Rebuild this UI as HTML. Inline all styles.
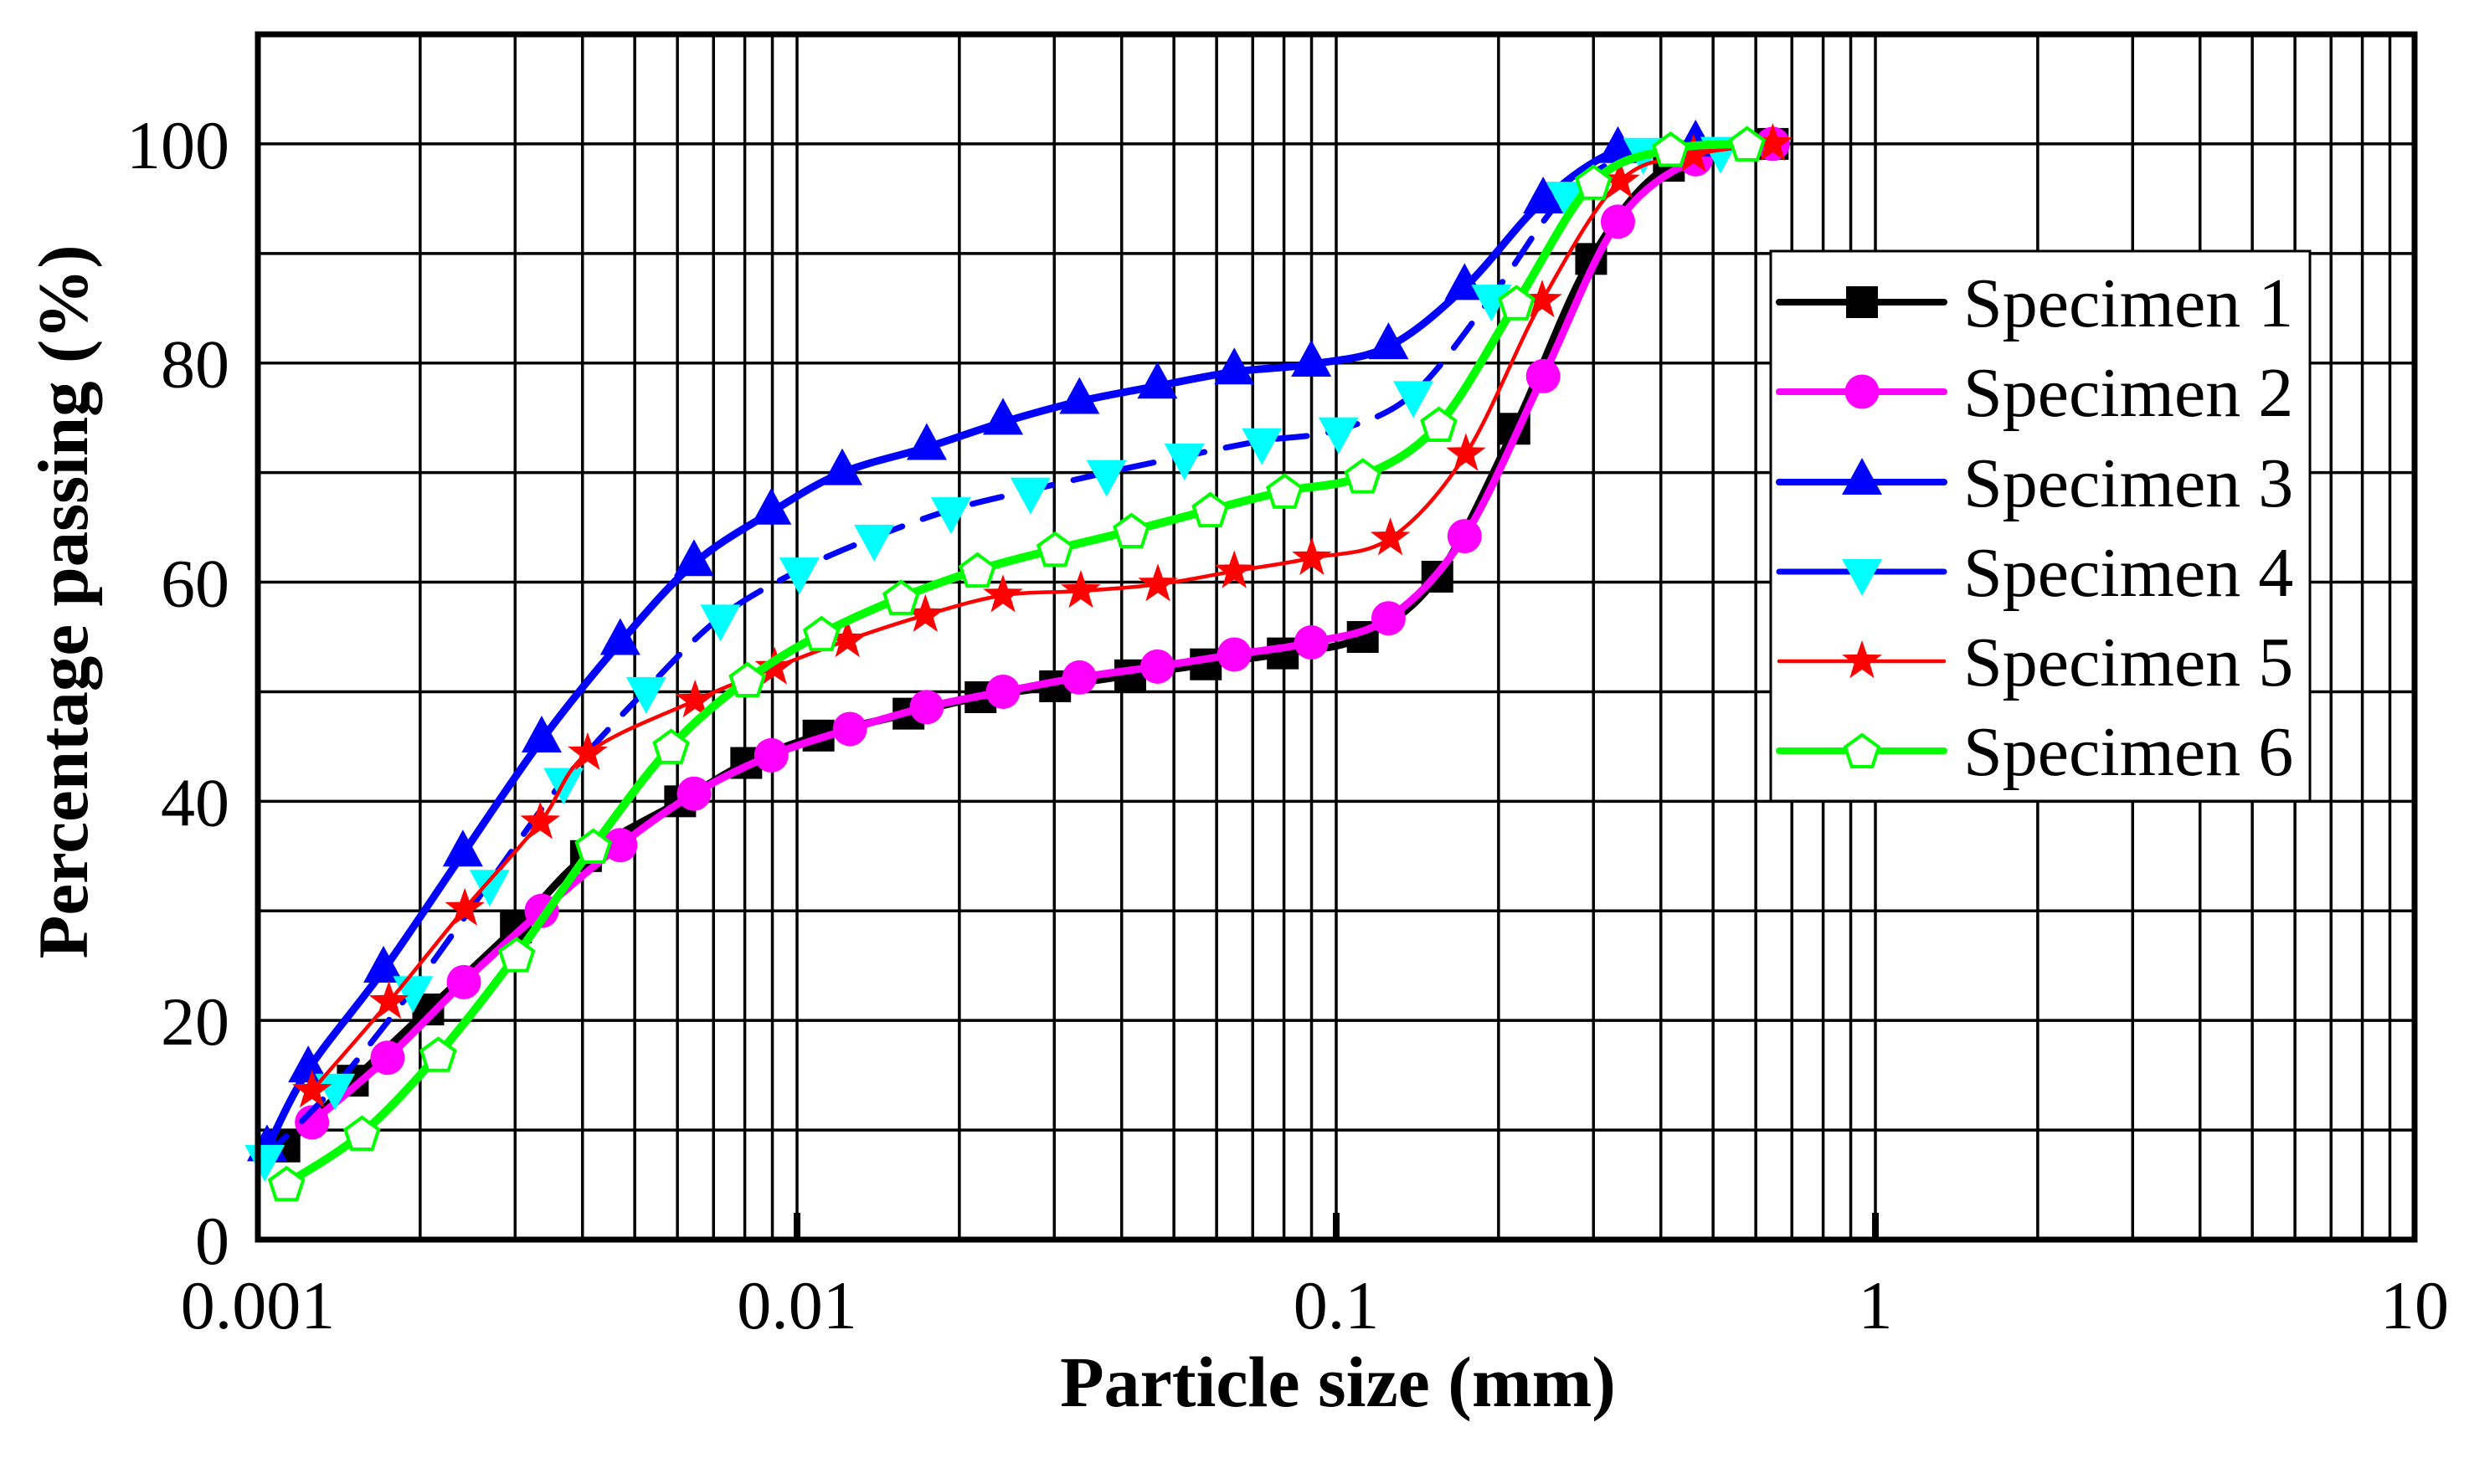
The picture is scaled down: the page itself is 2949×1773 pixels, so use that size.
<!DOCTYPE html>
<html><head><meta charset="utf-8"><style>
html,body{margin:0;padding:0;background:#fff;}
svg{display:block;}
</style></head><body>
<svg id="chart" width="2949" height="1773" viewBox="0 0 2949 1773" xmlns="http://www.w3.org/2000/svg" font-family="'Liberation Serif', serif">
<rect x="0" y="0" width="2949" height="1773" fill="#fff"/>
<g id="grid"></g>
<g id="series"></g>
<g id="axes"></g>
<g id="legend"></g>
</svg>
<script>
const xTickLabels = ["0.001","0.01","0.1","1","10"];
const xTickValues = [0.001,0.01,0.1,1,10];
const yTickValues = [0,20,40,60,80,100];
const seriesNames = ["Specimen 1","Specimen 2","Specimen 3","Specimen 4","Specimen 5","Specimen 6"];

const s1Size = [0.00112,0.0015,0.00207,0.00301,0.00406,0.00607,0.00805,0.01096,0.0161,0.0219,0.0301,0.0415,0.0573,0.0796,0.112,0.154,0.214,0.297,0.414,0.645];
const s1Pass = [8.5,14.5,21,28.5,35,40,43.5,46,48,49.5,50.5,51.5,52.5,53.5,55,60.5,74,89.5,98,100];

const s2Size = [0.00126,0.00174,0.00241,0.00336,0.0047,0.00644,0.00896,0.01253,0.0174,0.0241,0.0334,0.0466,0.0647,0.0899,0.125,0.173,0.242,0.333,0.464,0.645];
const s2Pass = [10.7,16.6,23.5,30,36,40.7,44.2,46.6,48.6,50,51.3,52.3,53.4,54.5,56.7,64.2,78.8,92.9,98.6,100];

const s3Size = [0.00104,0.00124,0.00171,0.0024,0.00336,0.0047,0.00644,0.00896,0.01213,0.0174,0.0241,0.0334,0.0466,0.0647,0.0899,0.125,0.173,0.242,0.333,0.464];
const s3Pass = [8.3,15.5,24.6,35.2,45.6,54.5,61.7,66.4,70,72.3,74.6,76.5,77.9,79.2,79.9,81.5,86.9,94.8,99.4,100];

const s4Size = [0.00103,0.00139,0.00194,0.00269,0.00369,0.00525,0.00721,0.0101,0.0139,0.0193,0.0271,0.0375,0.0523,0.0728,0.101,0.139,0.194,0.267,0.371,0.516];
const s4Pass = [7.5,14,22.9,32.6,41.9,50.2,56.8,61.1,64.1,66.6,68.4,70,71.5,72.9,73.9,77.2,86,95.4,99.4,99.5];

const s5Size = [0.00126,0.00175,0.00242,0.00334,0.00409,0.00647,0.00909,0.0124,0.0173,0.0241,0.0336,0.0467,0.0647,0.0901,0.126,0.174,0.241,0.336,0.46,0.645];
const s5Pass = [13.6,21.7,30.2,38.1,44.4,49.2,52.2,54.7,57,58.8,59.2,59.8,61,62.2,64,71.7,85.7,96.6,99,100];

const s6Size = [0.00113,0.00156,0.00216,0.00302,0.00419,0.00584,0.00809,0.0111,0.0156,0.0216,0.0301,0.0417,0.0584,0.0802,0.112,0.155,0.216,0.300,0.417,0.578];
const s6Pass = [5.1,9.7,16.9,26,35.9,45,51.1,55.3,58.6,61.1,63,64.7,66.6,68.3,69.7,74.4,85.5,96.5,99.5,100];

const NS = "http://www.w3.org/2000/svg";
const L = 308, R = 2884, T = 41, B = 1481;
const xMinLog = -3, xMaxLog = 1, yMin = 0, yMax = 110;
function xs(v){ return L + (Math.log10(v) - xMinLog) / (xMaxLog - xMinLog) * (R - L); }
function ys(v){ return B - (v - yMin) / (yMax - yMin) * (B - T); }
function mk(tag, attrs, parent){ const e = document.createElementNS(NS, tag); for (const k in attrs) e.setAttribute(k, attrs[k]); parent.appendChild(e); return e; }

const grid = document.getElementById('grid');
for (let d = -3; d < 1; d++) {
  for (let m = 1; m <= 9; m++) {
    const v = m * Math.pow(10, d);
    if (m === 1 && d === -3) continue;
    const x = xs(v);
    const ln = mk('line', {x1:x, x2:x, y1:T, y2:B, stroke:'#000', 'stroke-width':3.5}, grid);
    
    
  }
}
for (let v = 10; v <= 100; v += 10) {
  const y = ys(v);
  const ln = mk('line', {x1:L, x2:R, y1:y, y2:y, stroke:'#000', 'stroke-width':3.5}, grid);
  
  
}

function pathFor(sz, ps){
  const pts = sz.map((s,i)=>[xs(s), ys(ps[i])]);
  let d = 'M' + pts[0][0] + ',' + pts[0][1];
  for (let i = 0; i < pts.length - 1; i++) {
    const p0 = pts[Math.max(0,i-1)], p1 = pts[i], p2 = pts[i+1], p3 = pts[Math.min(pts.length-1,i+2)];
    const c1 = [p1[0] + (p2[0]-p0[0])/6, p1[1] + (p2[1]-p0[1])/6];
    const c2 = [p2[0] - (p3[0]-p1[0])/6, p2[1] - (p3[1]-p1[1])/6];
    d += ' C' + c1[0] + ',' + c1[1] + ' ' + c2[0] + ',' + c2[1] + ' ' + p2[0] + ',' + p2[1];
  }
  return d;
}
function marker(type, x, y, parent){
  let e;
  if (type === 'square') e = mk('rect', {x:x-19, y:y-19, width:38, height:38, fill:'#000'}, parent);
  else if (type === 'circle') e = mk('circle', {cx:x, cy:y, r:20.5, fill:'#ff00ff'}, parent);
  else if (type === 'up') e = mk('polygon', {points:`${x},${y-29} ${x+24},${y+15} ${x-24},${y+15}`, fill:'#0000ff'}, parent);
  else if (type === 'down') e = mk('polygon', {points:`${x},${y+29} ${x+24},${y-15} ${x-24},${y-15}`, fill:'#00ffff'}, parent);
  else if (type === 'star') {
    let p = [];
    for (let k = 0; k < 10; k++) { const r = k%2 ? 10 : 25; const a = -Math.PI/2 + k*Math.PI/5; p.push((x + r*Math.cos(a)).toFixed(1) + ',' + (y + r*Math.sin(a)).toFixed(1)); }
    e = mk('polygon', {points:p.join(' '), fill:'#ff0000'}, parent);
  } else if (type === 'pent') {
    let p = [];
    for (let k = 0; k < 5; k++) { const a = -Math.PI/2 + k*2*Math.PI/5; p.push((x + 21*Math.cos(a)).toFixed(1) + ',' + (y + 2 + 21*Math.sin(a)).toFixed(1)); }
    e = mk('polygon', {points:p.join(' '), fill:'#fff', stroke:'#00ff00', 'stroke-width':4}, parent);
  }
  return e;
}

const seriesDefs = [
  {size:s1Size, pass:s1Pass, color:'#000000', w:9, dash:null, m:'square'},
  {size:s2Size, pass:s2Pass, color:'#ff00ff', w:9, dash:null, m:'circle'},
  {size:s3Size, pass:s3Pass, color:'#0000ff', w:9, dash:null, m:'up'},
  {size:s4Size, pass:s4Pass, color:'#0000ff', w:7, dash:'36,26', m:'down'},
  {size:s5Size, pass:s5Pass, color:'#ff0000', w:4.5, dash:null, m:'star'},
  {size:s6Size, pass:s6Pass, color:'#00ff00', w:10, dash:null, m:'pent'}
];
const sg = document.getElementById('series');
seriesDefs.forEach((s, i) => {
  const g = mk('g', {}, sg);
  
  
  const attrs = {d:pathFor(s.size, s.pass), fill:'none', stroke:s.color, 'stroke-width':s.w, 'stroke-linecap':'round'};
  if (s.dash) attrs['stroke-dasharray'] = s.dash;
  const p = mk('path', attrs, g);
  
  
  s.size.forEach((v, j) => {
    const e = marker(s.m, xs(v), ys(s.pass[j]), g);
    
    
  });
});

const ax = document.getElementById('axes');
const frame = mk('rect', {x:L, y:T, width:R-L, height:B-T, fill:'none', stroke:'#000', 'stroke-width':7}, ax);


xTickValues.forEach((v, i) => {
  const x = xs(v);
  if (i > 0 && i < xTickValues.length - 1) {
    const tk = mk('line', {x1:x, x2:x, y1:B-32, y2:B, stroke:'#000', 'stroke-width':8}, ax);
    
    
  }
  const t = mk('text', {x:x, y:1587, 'font-size':82, 'text-anchor':'middle', fill:'#000'}, ax);
  t.textContent = xTickLabels[i];
  
  
});
yTickValues.forEach(v => {
  const t = mk('text', {x:274, y:ys(v)+29, 'font-size':82, 'text-anchor':'end', fill:'#000'}, ax);
  t.textContent = String(v);
  
  
});
const xt = mk('text', {x:1598, y:1680, 'font-size':86, 'font-weight':'bold', 'text-anchor':'middle', fill:'#000'}, ax);
xt.textContent = 'Particle size (mm)';


const yt = mk('text', {x:0, y:0, 'font-size':85, 'font-weight':'bold', 'text-anchor':'middle', fill:'#000', transform:'translate(104,719) rotate(-90)'}, ax);
yt.textContent = 'Percentage passing (%)';



const lg = document.getElementById('legend');
const box = mk('rect', {x:2115, y:300, width:644, height:657, fill:'#fff', stroke:'#000', 'stroke-width':3}, lg);


const legY = [361,468,576,683,790,897];
seriesDefs.forEach((s, i) => {
  const g = mk('g', {}, lg);
  
  
  const y = legY[i];
  mk('line', {x1:2125, x2:2322, y1:y, y2:y, stroke:s.color, 'stroke-width':Math.min(s.w,8), 'stroke-linecap':'round'}, g);
  marker(s.m, 2224, y, g);
  const t = mk('text', {x:2345, y:y+29, 'font-size':84, fill:'#000'}, g);
  t.textContent = seriesNames[i];
});
</script>
</body></html>
